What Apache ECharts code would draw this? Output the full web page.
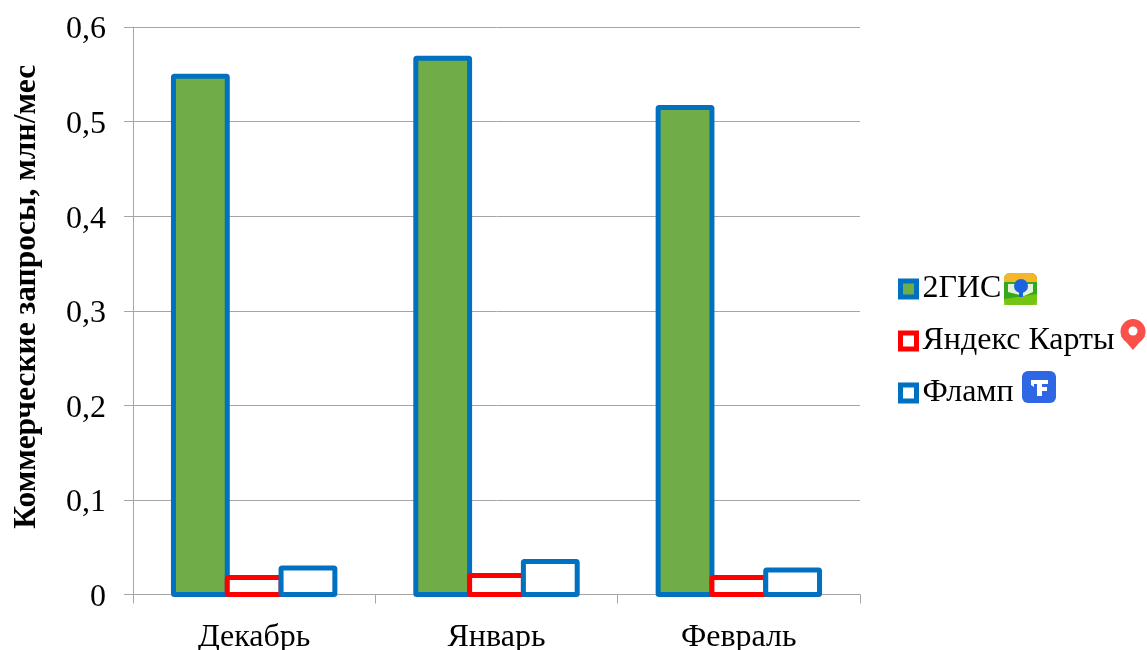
<!DOCTYPE html>
<html>
<head>
<meta charset="utf-8">
<style>html,body{margin:0;padding:0;background:#fff}#chart{width:1147px;height:650px}</style>
<script src="https://cdn.jsdelivr.net/npm/echarts@6/dist/echarts.min.js"></script>
</head>
<body>
<div id="chart"></div>
<script>
const months = ['Декабрь', 'Январь', 'Февраль'];
const gis2 = [0.548, 0.567, 0.515];
const yandexMaps = [0.018, 0.020, 0.018];
const flamp = [0.028, 0.035, 0.026];
const serif = '"Liberation Serif", "Times New Roman", serif';
const blue = '#0070c0';
const red = '#ff0000';
const green = '#70ad47';
const gridGrey = '#a6a6a6';
const barShare = 0.222;   // width of one bar as a share of the category band
const borderWidth = 5;

// Bars are stroked on their outline, so the stroke straddles the value and the baseline
function barSeries(name, values, fill, border, slot) {
  return {
    name, type: 'custom', data: values.map((v, i) => [i, v]),
    itemStyle: { color: fill, borderColor: border, borderWidth },
    renderItem(params, api) {
      const base = api.coord([api.value(0), 0]);
      const top = api.coord([api.value(0), api.value(1)]);
      const w = api.size([1, 0])[0] * barShare;
      return {
        type: 'rect',
        shape: { x: base[0] + (slot - 0.5) * w, y: top[1], width: w, height: base[1] - top[1], r: 1 },
        style: { fill, stroke: border, lineWidth: borderWidth }
      };
    }
  };
}

// Small brand marks placed next to the legend entries
const brandMarks = [
  { type: 'group', x: 1004, y: 273, children: [
    { type: 'rect', shape: { x: 0, y: 0, width: 33, height: 32, r: 6 }, style: { fill: '#35a81e' } },
    { type: 'rect', shape: { x: 0, y: 0, width: 33, height: 9, r: [6, 6, 0, 0] }, style: { fill: '#f6b62a' } },
    { type: 'polygon', shape: { points: [[4, 11], [29, 11], [29, 19], [20, 23], [4, 19]] }, style: { fill: '#e6f3d8' } },
    { type: 'polygon', shape: { points: [[0, 26], [33, 21], [33, 32], [0, 32]] }, style: { fill: '#7cc70f', opacity: 0.9 } },
    { type: 'circle', shape: { cx: 17, cy: 13, r: 7 }, style: { fill: '#1b63e0' } },
    { type: 'rect', shape: { x: 15, y: 18, width: 4, height: 6 }, style: { fill: '#1b63e0' } }
  ] },
  { type: 'group', x: 1120, y: 319, children: [
    { type: 'polygon', shape: { points: [[1, 17], [25, 17], [13, 31]] }, style: { fill: '#f9514a' } },
    { type: 'circle', shape: { cx: 13, cy: 12.5, r: 12.5 }, style: { fill: '#f9514a' } },
    { type: 'circle', shape: { cx: 13, cy: 12, r: 4.5 }, style: { fill: '#ffffff' } }
  ] },
  { type: 'group', x: 1022, y: 371, children: [
    { type: 'rect', shape: { x: 0, y: 0, width: 34, height: 32, r: 6 }, style: { fill: '#2f66e3' } },
    { type: 'polygon', shape: { points: [[9, 9], [26, 9], [26, 13], [20, 13], [20, 16], [25, 16], [25, 20], [20, 20], [20, 25], [15, 25], [15, 13], [12, 13], [12, 16], [9, 14]] }, style: { fill: '#ffffff' } }
  ] }
];

const chart = echarts.init(document.getElementById('chart'), null, { renderer: 'canvas' });
chart.setOption({
  animation: false,
  backgroundColor: '#ffffff',
  grid: { left: 133, right: 287, top: 27, bottom: 55.5, containLabel: false, outerBoundsMode: 'none' },
  legend: {
    orient: 'vertical', left: 898, top: 271, padding: 0,
    itemWidth: 16, itemHeight: 16, itemGap: 16, icon: 'rect',
    textStyle: { fontFamily: serif, fontSize: 32, color: '#000', lineHeight: 30, padding: [6, 0, 0, 1] },
    data: [
      { name: '2ГИС', itemStyle: { color: green, borderColor: blue, borderWidth } },
      { name: 'Яндекс Карты', itemStyle: { color: '#fff', borderColor: red, borderWidth } },
      { name: 'Фламп', itemStyle: { color: '#fff', borderColor: blue, borderWidth } }
    ]
  },
  xAxis: {
    type: 'category', data: months,
    axisLine: { lineStyle: { color: gridGrey, width: 1 } },
    axisTick: { show: true, length: 9, alignWithLabel: false, lineStyle: { color: gridGrey } },
    axisLabel: { fontFamily: serif, fontSize: 32, color: '#000', margin: 27 }
  },
  yAxis: {
    type: 'value', min: 0, max: 0.6, interval: 0.1,
    name: 'Коммерческие запросы, млн/мес', nameLocation: 'middle', nameGap: 90,
    nameTextStyle: { fontFamily: serif, fontSize: 31.5, fontWeight: 'bold', color: '#000', padding: [0, 0, 0, 28] },
    axisLine: { show: true, lineStyle: { color: gridGrey, width: 1 } },
    axisTick: { show: true, length: 9, lineStyle: { color: gridGrey } },
    splitLine: { show: true, lineStyle: { color: gridGrey, width: 1 } },
    axisLabel: {
      fontFamily: serif, fontSize: 32, color: '#000', margin: 27,
      verticalAlign: 'top', lineHeight: 6,
      formatter: v => String(+v.toFixed(1)).replace('.', ',')
    }
  },
  series: [
    barSeries('2ГИС', gis2, green, blue, -1),
    barSeries('Яндекс Карты', yandexMaps, '#ffffff', red, 0),
    barSeries('Фламп', flamp, '#ffffff', blue, 1)
  ],
  graphic: brandMarks
});
</script>
</body>
</html>
